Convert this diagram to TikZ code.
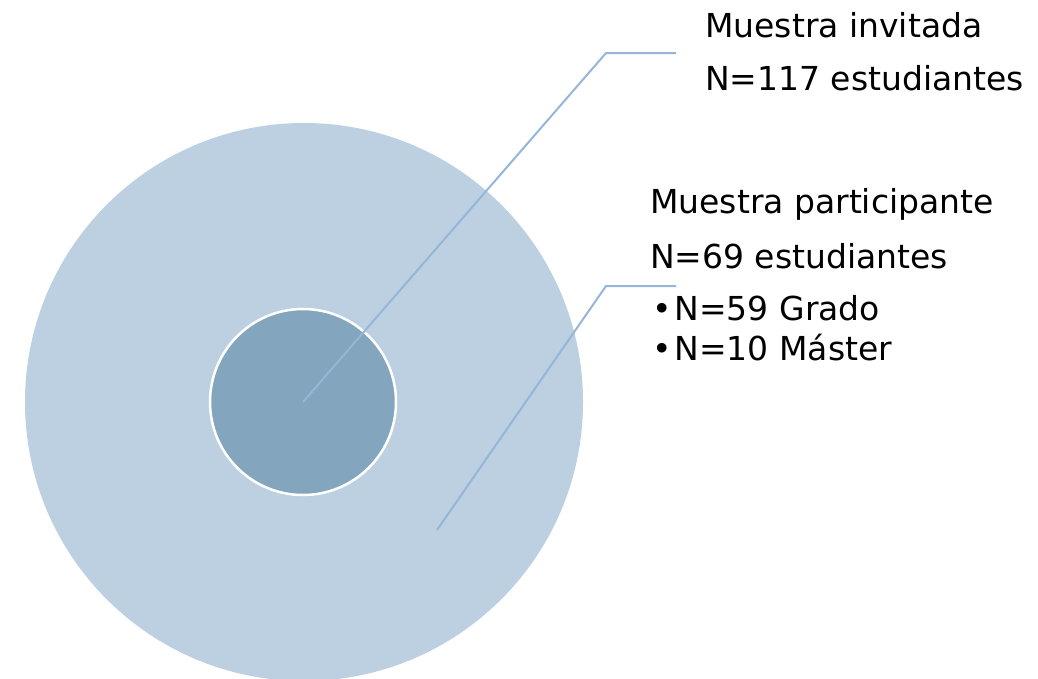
\documentclass[tikz,border=0pt]{standalone}
\usepackage{fontspec}
\setmainfont{DejaVu Sans}
\usetikzlibrary{positioning}
\definecolor{outerblue}{HTML}{BDD0E1}
\definecolor{innerblue}{HTML}{84A5BE}
\definecolor{leaderblue}{HTML}{95B6D8}
\begin{document}
\begin{tikzpicture}[x=1pt,y=-1pt,
        disc/.style={circle,inner sep=0pt},
        leader/.style={draw=leaderblue,line width=2pt},
        label/.style={anchor=base west,inner sep=0pt,font=\fontsize{33}{33}\selectfont}]
        \useasboundingbox (0,0) rectangle (1038,678);
        \node[disc,fill=outerblue,minimum size=558pt] (outer) at (304,402) {};
        \node[disc,fill=innerblue,draw=white,line width=2.5pt,minimum size=186pt] (inner) at (303,402) {};

        \coordinate (p2) at (437,530);
        \coordinate (k1) at (606,53);
        \coordinate (e1) at (676,53);
        \coordinate (k2) at (606,286);
        \coordinate (e2) at (676,286);

        \draw[leader] (inner.center)--(k1)--(e1);
        \draw[leader] (p2)--(k2)--(e2);

        \node[label] (invitada) at (705,37) {Muestra invitada};
        \node[label] (invitadaN) at (705,90) {N=117 estudiantes};
        \node[label] (participante) at (650,213) {Muestra participante};
        \node[label] (participanteN) at (650,268) {N=69 estudiantes};
        \node[label] (grado) at (652,320) {\textbullet\hspace{3pt}N=59 Grado};
        \node[label] (master) at (652,360) {\textbullet\hspace{3pt}N=10 Máster};
\end{tikzpicture}
\end{document}
